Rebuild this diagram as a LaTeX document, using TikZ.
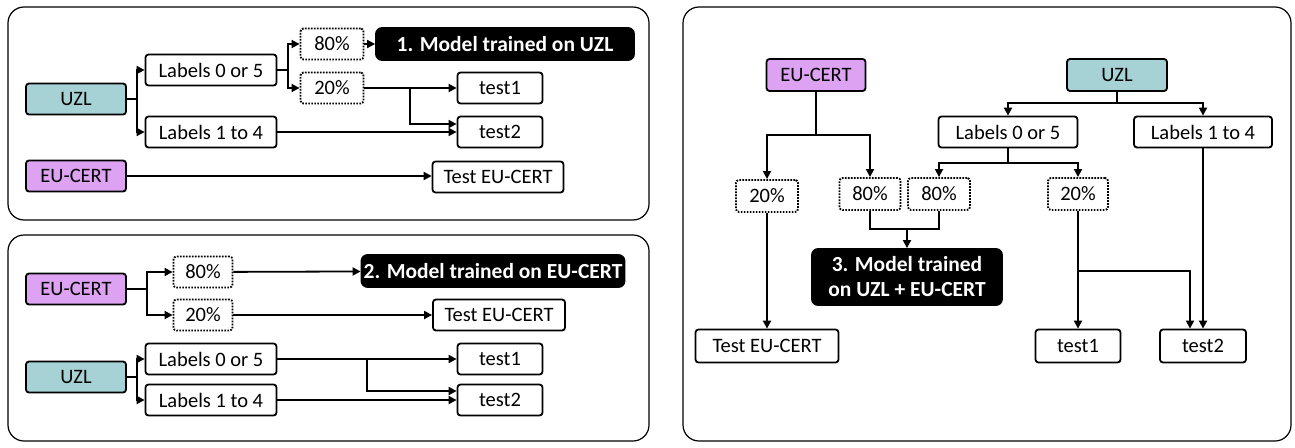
\documentclass[tikz,border=0pt]{standalone}
\usepackage{fontspec}
\setmainfont{Carlito}
\usetikzlibrary{arrows.meta}
\definecolor{uzlteal}{RGB}{166,210,213}
\definecolor{eupurple}{RGB}{221,162,242}

\begin{document}
\begin{tikzpicture}[x=1pt, y=-1pt,
   box/.style={draw, rounded corners=3pt, line width=1.8pt, inner sep=0pt, minimum height=31pt, fill=white,
      font=\fontsize{20.5}{23}\selectfont},
   split/.style={box, dash pattern=on 1.6pt off 1.4pt, line width=1.9pt},
   model/.style={box, fill=black, text=white, rounded corners=6pt, align=center,
      font=\fontsize{21.5}{25}\selectfont\bfseries},
   uzl/.style={box, fill=uzlteal},
   eu/.style={box, fill=eupurple},
   panel/.style={draw, rounded corners=16pt, line width=1.2pt},
   link/.style={line width=1.8pt},
   transition/.style={link, -{Triangle[length=8pt,width=8pt]}}]
\useasboundingbox (0,0) rectangle (1295,447);

% panels
\draw[panel] (8,7) rectangle (649,220);
\draw[panel] (8,235) rectangle (649,441);
\draw[panel] (683,7) rectangle (1291,441);

% 1. trained on UZL
\node[uzl, minimum width=100pt] (uzla) at (76,99) {UZL};
\node[box, minimum width=131pt] (lowa) at (211,70) {Labels 0 or 5};
\node[box, minimum width=131pt] (higha) at (211,132) {Labels 1 to 4};
\node[split, minimum width=63pt] (traina) at (332,44) {80\%};
\node[split, minimum width=63pt] (testa) at (332,88) {20\%};
\node[model, minimum width=258pt, minimum height=32pt] (modela) at (505,44) {1. Model trained on UZL};
\node[box, minimum width=85pt] (tonea) at (500,88) {test1};
\node[box, minimum width=85pt] (ttwoa) at (500,132) {test2};
\node[eu, minimum width=100pt] (eua) at (76,176) {EU-CERT};
\node[box, minimum width=131pt] (teua) at (498,177) {Test EU-CERT};

\coordinate (ja) at (137,99);
\coordinate (ka) at (288,70);
\coordinate (ba) at (410,88);
\draw[link] (uzla) -- (ja);
\draw[transition] (ja) |- (lowa);
\draw[transition] (ja) |- (higha);
\draw[link] (lowa) -- (ka);
\draw[transition] (ka) |- (traina);
\draw[transition] (ka) |- (testa);
\draw[transition] (traina) -- (modela);
\draw[transition] (testa) -- (tonea);
\draw[transition] (ba) |- ([yshift=8pt]ttwoa.west);
\draw[transition] (higha) -- (ttwoa);
\draw[transition] (eua.east) -- (eua.east -| teua.west);

% 2. trained on EU-CERT
\node[eu, minimum width=100pt] (eub) at (76,289) {EU-CERT};
\node[split, minimum width=59pt] (trainb) at (203,272) {80\%};
\node[split, minimum width=59pt] (testb) at (203,315) {20\%};
\node[model, minimum width=263pt, minimum height=32pt] (modelb) at (493,271) {2. Model trained on EU-CERT};
\node[box, minimum width=132pt] (teub) at (499,315) {Test EU-CERT};
\node[uzl, minimum width=100pt] (uzlb) at (76,377) {UZL};
\node[box, minimum width=131pt] (lowb) at (211,359) {Labels 0 or 5};
\node[box, minimum width=131pt] (highb) at (211,400) {Labels 1 to 4};
\node[box, minimum width=85pt] (toneb) at (500,359) {test1};
\node[box, minimum width=85pt] (ttwob) at (500,400) {test2};

\coordinate (jb) at (147,289);
\coordinate (kb) at (137,377);
\coordinate (bb) at (367,359);
\draw[link] (eub) -- (jb);
\draw[transition] (jb) |- (trainb);
\draw[transition] (jb) |- (testb);
\draw[transition] (trainb) -- (modelb);
\draw[transition] (testb) -- (teub);
\draw[link] (uzlb) -- (kb);
\draw[transition] (kb) |- (lowb);
\draw[transition] (kb) |- (highb);
\draw[transition] (lowb) -- (toneb);
\draw[transition] (bb) |- ([yshift=9pt]ttwob.west);
\draw[transition] (highb) -- (ttwob);

% 3. trained on UZL + EU-CERT
\node[eu, minimum width=99pt, minimum height=32pt] (euc) at (816,75) {EU-CERT};
\node[uzl, minimum width=100pt, minimum height=32pt] (uzlc) at (1117,75) {UZL};
\node[box, minimum width=139pt] (lowc) at (1008,132) {Labels 0 or 5};
\node[box, minimum width=138pt] (highc) at (1203,132) {Labels 1 to 4};
\node[split, minimum width=62pt, minimum height=32pt] (testc) at (767,196) {20\%};
\node[split, minimum width=61pt, minimum height=32pt] (trainc) at (870,194) {80\%};
\node[split, minimum width=62pt, minimum height=32pt] (traind) at (939,194) {80\%};
\node[split, minimum width=60pt, minimum height=32pt] (testd) at (1078,194) {20\%};
\node[model, minimum width=190pt, minimum height=56pt] (modelc) at (907,277) {3. Model trained\\on UZL + EU-CERT};
\node[box, minimum width=143pt, minimum height=33pt] (teuc) at (767,346) {Test EU-CERT};
\node[box, minimum width=85pt, minimum height=33pt] (tonec) at (1078,346) {test1};
\node[box, minimum width=86pt, minimum height=33pt] (ttwoc) at (1203,346) {test2};

\coordinate (jc) at (816,135);
\coordinate (kc) at (1117,103);
\coordinate (lc) at (1008,163);
\coordinate (mc) at (907,229);
\coordinate (bc) at (1078,271);
\draw[link] (euc) -- (jc);
\draw[transition] (jc) -| (testc);
\draw[transition] (jc) -| (trainc);
\draw[link] (uzlc) -- (kc);
\draw[transition] (kc) -| (lowc);
\draw[transition] (kc) -| (highc);
\draw[link] (lowc) -- (lc);
\draw[transition] (lc) -| (traind);
\draw[transition] (lc) -| (testd);
\draw[link] (trainc) |- (mc) -| (traind);
\draw[transition] (mc) -- (modelc);
\draw[transition] (testc) -- (teuc);
\draw[transition] (testd) -- (tonec);
\draw[transition] (bc) -| ([xshift=-13pt]ttwoc.north);
\draw[transition] (highc) -- (ttwoc);

\end{tikzpicture}
\end{document}
